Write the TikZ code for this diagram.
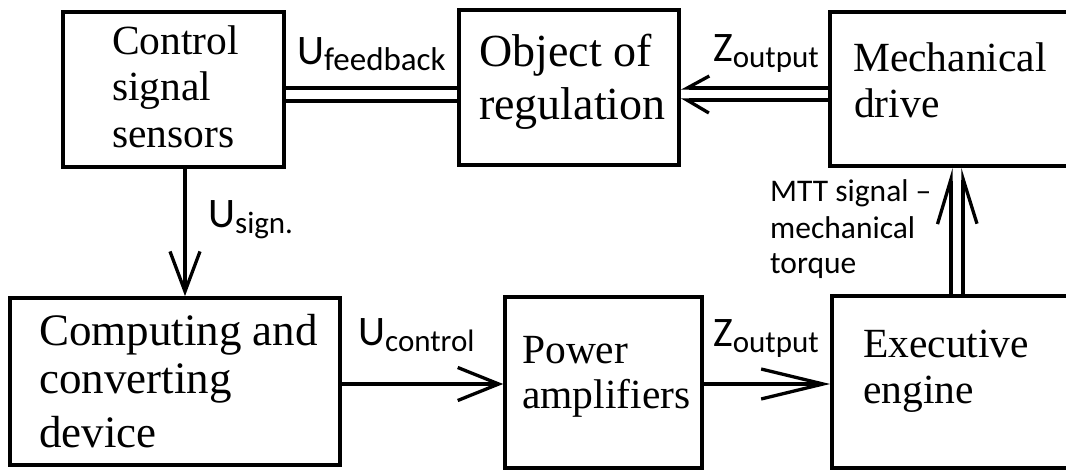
\documentclass[tikz,border=0pt]{standalone}
\usepackage{fontspec}
\setmainfont{Liberation Serif}
\newfontfamily\labfont{Carlito}
\usetikzlibrary{arrows.meta}
\newcommand\lblsub[2][31]{\raisebox{-6pt}{\fontsize{#1}{#1}\selectfont #2}}
\begin{document}
\begin{tikzpicture}[x=1pt,y=-1pt,
  box/.style={draw, line width=3.7pt, inner sep=0pt},
  tx/.style={anchor=base west, inner sep=0pt, font=\fontsize{41.5}{41.5}\selectfont},
  txbig/.style={anchor=base west, inner sep=0pt, font=\fontsize{46}{46}\selectfont},
  txmid/.style={anchor=base west, inner sep=0pt, font=\fontsize{45}{45}\selectfont},
  lab/.style={anchor=base west, inner sep=0pt, font=\labfont\fontsize{42}{42}\selectfont},
  mtt/.style={anchor=base west, inner sep=0pt, font=\labfont\fontsize{31.5}{31.5}\selectfont},
  conn/.style={line width=3.3pt},
]
\useasboundingbox (0,0) rectangle (1066,470);
\clip (0,0) rectangle (1066,470);

% boxes
\node[box, minimum width=221pt, minimum height=155pt] (ctrl) at (173.5,89.5) {};
\node[box, minimum width=220pt, minimum height=155pt] (obj)  at (569,87.5) {};
\node[box, minimum width=245pt, minimum height=154pt] (mech) at (952.5,89) {};
\node[box, minimum width=330pt, minimum height=167pt] (comp) at (175,381.5) {};
\node[box, minimum width=197pt, minimum height=171pt] (pow)  at (603.5,382.5) {};
\node[box, minimum width=243pt, minimum height=172pt] (exec) at (953.5,382) {};

% box texts
\node[tx] (c1) at (112,55) {Control};
\node[tx] (c2) at (112,101) {signal};
\node[tx] (c3) at (112,148) {sensors};
\node[txbig] (o1) at (479,67) {Object of};
\node[txbig] (o2) at (479,120) {regulation};
\node[tx] (md1) at (853,72) {Mechanical};
\node[tx] (md2) at (854,118) {drive};
\node[txmid] (cc1) at (39,345) {Computing and};
\node[txmid] (cc2) at (39,393) {converting};
\node[txmid] (cc3) at (39,447) {device};
\node[tx] (p1) at (522,363) {Power};
\node[tx] (p2) at (522,408) {amplifiers};
\node[tx] (e1) at (863,358) {Executive};
\node[tx] (e2) at (863,403) {engine};

% labels
\node[lab] (lfb) at (297,65) {U\lblsub[33]{feedback}};
\node[lab] (lsg) at (208,228) {U\lblsub{sign.}};
\node[lab] (lzt) at (713,62) {Z\lblsub{output}};
\node[lab] (lct) at (358,345) {U\lblsub{control}};
\node[lab] (lzb) at (713,347) {Z\lblsub{output}};
\node[mtt] (m1) at (770,202) {MTT signal –};
\node[mtt] (m2) at (770,239) {mechanical};
\node[mtt] (m3) at (770,274) {torque};

% connectors
\draw[conn] (ctrl.east |- 0,88) -- (obj.west |- 0,88);
\draw[conn] (ctrl.east |- 0,101) -- (obj.west |- 0,101);
\draw[conn, -{Straight Barb[right,length=22pt,width=24pt]}] (mech.west |- 0,88) -- (obj.east |- 0,88);
\draw[conn, -{Straight Barb[left,length=22pt,width=26pt]}] (mech.west |- 0,100) -- (obj.east |- 0,100);
\draw[conn, -{Straight Barb[left,length=45pt,width=27pt]}] (exec.north -| 951,0) -- (mech.south -| 951,0);
\draw[conn, -{Straight Barb[right,length=45pt,width=28pt]}] (exec.north -| 963,0) -- (mech.south -| 963,0);
\draw[conn, -{Straight Barb[length=40pt,width=30pt]}] (ctrl.south -| 185,0) -- (comp.north -| 185,0);
\draw[conn, -{Straight Barb[length=41pt,width=33pt]}] (comp.east |- 0,384) -- (pow.west |- 0,384);
\draw[conn, -{Straight Barb[length=62pt,width=30pt]}] (pow.east |- 0,384) -- (exec.west |- 0,384);
\end{tikzpicture}
\end{document}
